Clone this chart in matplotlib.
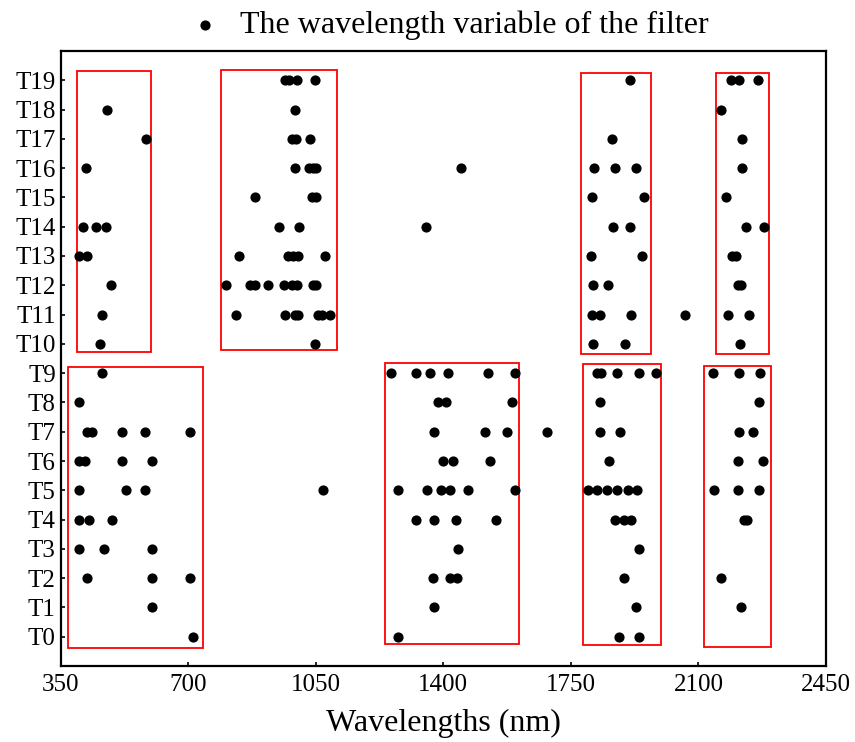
import matplotlib.pyplot as plt
from matplotlib.patches import Rectangle

plt.rcParams['font.family'] = ['Liberation Serif', 'DejaVu Serif']

# selected wavelengths (nm) for each filter T0..T19
t0 = [714, 1275, 1882, 1938]
t1 = [601, 1375, 1929, 2218]
t2 = [421, 601, 705, 1372, 1417, 1437, 1896, 2163]
t3 = [399, 468, 601, 1441, 1938]
t4 = [400, 428, 492, 1325, 1375, 1434, 1544, 1870, 1896, 1914, 2225, 2234]
t5 = [399, 528, 581, 1071, 1276, 1354, 1395, 1417, 1468, 1596, 1798, 1822,
      1848, 1877, 1907, 1932, 2142, 2208, 2266]
t6 = [400, 417, 519, 600, 1400, 1426, 1527, 1856, 2210, 2278]
t7 = [421, 437, 519, 582, 705, 1375, 1514, 1574, 1685, 1830, 1885, 2211, 2249]
t8 = [399, 1386, 1408, 1588, 1830, 2266]
t9 = [463, 1256, 1326, 1364, 1412, 1523, 1596, 1821, 1832, 1877, 1938, 1985,
      2139, 2211, 2270]
t10 = [458, 1049, 1810, 1898, 2214]
t11 = [464, 830, 965, 993, 1002, 1057, 1066, 1089, 1808, 1831, 1916, 2063,
       2181, 2240]
t12 = [489, 804, 869, 883, 920, 962, 984, 999, 1043, 1051, 1810, 1852, 2208, 2216]
t13 = [400, 421, 839, 975, 988, 1002, 1075, 1804, 1945, 2191, 2202]
t14 = [412, 448, 473, 950, 1005, 1352, 1865, 1913, 2231, 2279]
t15 = [883, 1040, 1051, 1808, 1951, 2176]
t16 = [419, 993, 1032, 1043, 1051, 1448, 1813, 1871, 1929, 2220]
t17 = [584, 986, 996, 1035, 1862, 2221]
t18 = [476, 994, 2162]
t19 = [965, 977, 999, 1049, 1913, 2190, 2212, 2263]

filters = [t0, t1, t2, t3, t4, t5, t6, t7, t8, t9,
           t10, t11, t12, t13, t14, t15, t16, t17, t18, t19]
labels = ['T%d' % i for i in range(20)]

# highlighted bands: (x start, x end, y start, y end)
boxes = [(396, 598, 9.72, 19.32),
         (790, 1107, 9.78, 19.36),
         (1777, 1971, 9.66, 19.26),
         (2147, 2294, 9.66, 19.26),
         (371, 740, -0.375, 9.22),
         (1241, 1608, -0.25, 9.34),
         (1784, 1998, -0.27, 9.31),
         (2116, 2298, -0.34, 9.24)]

xs = []
ys = []
for i, vals in enumerate(filters):
    xs += vals
    ys += [i] * len(vals)

fig = plt.figure(figsize=(8.55, 7.42), dpi=100)
ax = fig.add_axes([0.071, 0.1024, 0.895, 0.8289])

ax.scatter(xs, ys, s=40, color='black', zorder=3,
           label='The wavelength variable of the filter')

for x0, x1, y0, y1 in boxes:
    ax.add_patch(Rectangle((x0, y0), x1 - x0, y1 - y0, fill=False,
                           edgecolor='red', linewidth=1.3, zorder=2))

ax.set_xlim(350, 2450)
ax.set_ylim(-1, 20)
ax.set_xticks([350, 700, 1050, 1400, 1750, 2100, 2450])
ax.set_yticks(range(20))
ax.set_yticklabels(labels)
ax.tick_params(direction='in', length=3, width=1.2, labelsize=18)
ax.tick_params(axis='x', pad=6)
for s in ax.spines.values():
    s.set_linewidth(1.6)

ax.set_xlabel('Wavelengths (nm)', fontsize=23, labelpad=9)

fig.legend(loc='upper center', bbox_to_anchor=(0.525, 1.024), frameon=False,
           fontsize=23, handlelength=1.0, handletextpad=0.6, markerscale=1.0)

plt.savefig('out.png')
